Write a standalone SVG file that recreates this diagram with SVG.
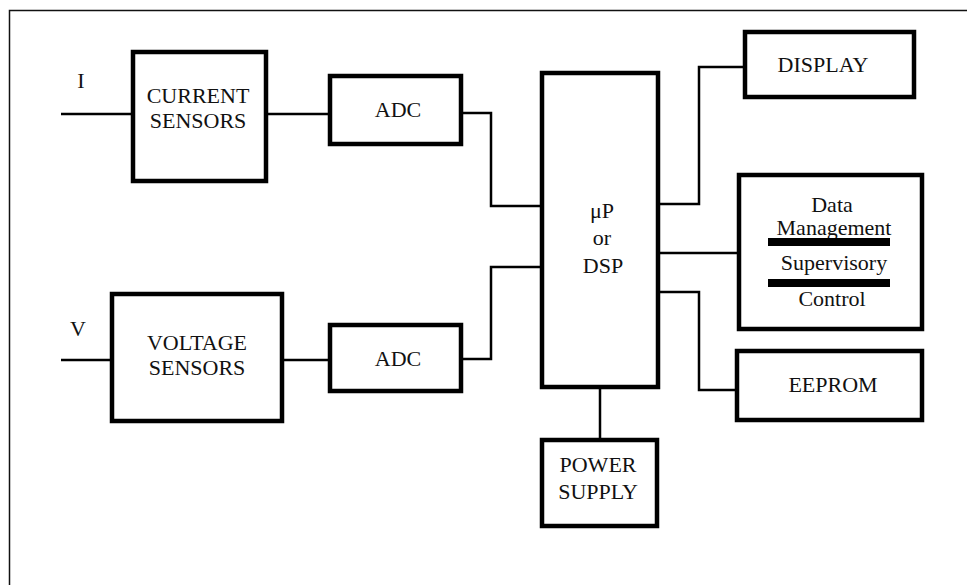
<svg xmlns="http://www.w3.org/2000/svg" width="967" height="585" viewBox="0 0 967 585">
<style>
.box{fill:#fff;stroke:#000;stroke-width:4.5}
.ln{fill:none;stroke:#000;stroke-width:2.5}
text{font-family:'Liberation Serif','DejaVu Serif',serif;font-size:22px;fill:#111;text-anchor:middle}
</style>
<rect x="0" y="0" width="967" height="585" fill="#fff"/>
<path d="M9.5,585 V10.5 H967" fill="none" stroke="#111" stroke-width="1.5"/>
<g id="connectors">
<path class="ln" d="M61,114 H131"/>
<path class="ln" d="M268,114 H328"/>
<path class="ln" d="M463,113 H491 V206 H540"/>
<path class="ln" d="M61,360 H110"/>
<path class="ln" d="M284,360 H328"/>
<path class="ln" d="M463,359 H491 V267 H540"/>
<path class="ln" d="M660,204 H699 V67 H743"/>
<path class="ln" d="M660,253 H737"/>
<path class="ln" d="M660,292 H699 V390 H735"/>
<path class="ln" d="M600,389 V438"/>
</g>
<g id="label-I"><text x="81" y="88">I</text></g>
<g id="label-V"><text x="78" y="336">V</text></g>
<g id="current-sensors">
<rect class="box" x="133" y="52" width="133" height="129"/>
<text x="198" y="103">CURRENT</text>
<text x="198" y="128">SENSORS</text>
</g>
<g id="adc1">
<rect class="box" x="330" y="76" width="131" height="68"/>
<text x="398" y="117">ADC</text>
</g>
<g id="voltage-sensors">
<rect class="box" x="112" y="294" width="170" height="127"/>
<text x="197" y="350">VOLTAGE</text>
<text x="197" y="375">SENSORS</text>
</g>
<g id="adc2">
<rect class="box" x="330" y="325" width="131" height="66"/>
<text x="398" y="366">ADC</text>
</g>
<g id="processor">
<rect class="box" x="542" y="73" width="116" height="314"/>
<text x="602" y="218">μP</text>
<text x="602" y="245">or</text>
<text x="603" y="273">DSP</text>
</g>
<g id="display">
<rect class="box" x="745" y="32" width="169" height="65"/>
<text x="823" y="72">DISPLAY</text>
</g>
<g id="data-management">
<rect class="box" x="739" y="175" width="183" height="154"/>
<text x="832" y="212">Data</text>
<text x="834" y="235">Management</text>
<rect x="768" y="238" width="122" height="8" fill="#000"/>
<text x="834" y="270">Supervisory</text>
<rect x="768" y="279" width="122" height="8" fill="#000"/>
<text x="832" y="306">Control</text>
</g>
<g id="eeprom">
<rect class="box" x="737" y="351" width="185" height="69"/>
<text x="833" y="392">EEPROM</text>
</g>
<g id="power-supply">
<rect class="box" x="542" y="440" width="115" height="86"/>
<text x="598" y="472">POWER</text>
<text x="598" y="499">SUPPLY</text>
</g>
</svg>
